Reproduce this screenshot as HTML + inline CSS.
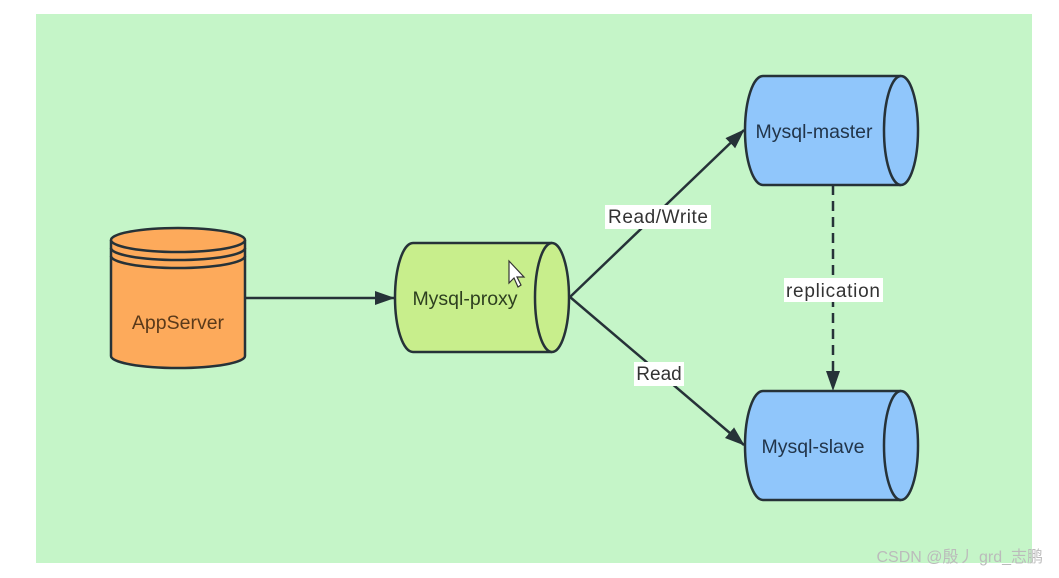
<!DOCTYPE html>
<html><head><meta charset="utf-8"><style>
html,body{margin:0;padding:0;background:#fff;width:1059px;height:578px;overflow:hidden}
text{font-family:"Liberation Sans","Noto Sans CJK SC",sans-serif}
</style></head><body>
<svg width="1059" height="578" viewBox="0 0 1059 578" xmlns="http://www.w3.org/2000/svg">
<defs>
<marker id="ah2" viewBox="0 0 20 20" refX="19" refY="10" markerWidth="20" markerHeight="20" orient="auto" markerUnits="userSpaceOnUse"><path d="M0,3 L20,10 L0,17 z" fill="#263238"/></marker>
</defs>
<rect x="36" y="14" width="996" height="549" fill="#c5f5c8"/>
<g stroke="#263238" stroke-width="2.5">
<path d="M111,240 L111,356 A67,12 0 0 0 245,356 L245,240" fill="#fdaa5b"/>
<ellipse cx="178" cy="240" rx="67" ry="12" fill="#fdaa5b"/>
<path d="M111,248 A67,12 0 0 0 245,248 M111,256 A67,12 0 0 0 245,256" fill="none"/>
<path d="M552,243 L413,243 A18,54.5 0 0 0 413,352 L552,352" fill="#c8ee8c"/>
<ellipse cx="552" cy="297.5" rx="17" ry="54.5" fill="#c8ee8c"/>
<path d="M901,76 L763,76 A18,54.5 0 0 0 763,185 L901,185" fill="#90c6fb"/>
<ellipse cx="901" cy="130.5" rx="17" ry="54.5" fill="#90c6fb"/>
<path d="M901,391 L763,391 A18,54.5 0 0 0 763,500 L901,500" fill="#90c6fb"/>
<ellipse cx="901" cy="445.5" rx="17" ry="54.5" fill="#90c6fb"/>
</g>
<g stroke="#263238" stroke-width="2.5" fill="none">
<line x1="245" y1="298" x2="394" y2="298" marker-end="url(#ah2)"/>
<line x1="570" y1="297" x2="744" y2="130" marker-end="url(#ah2)"/>
<line x1="570" y1="297" x2="744" y2="445" marker-end="url(#ah2)"/>
<line x1="833" y1="185" x2="833" y2="390" stroke-dasharray="10,6" marker-end="url(#ah2)"/>
</g>
<rect x="605" y="205" width="106" height="24" fill="#fff"/>
<rect x="634" y="362" width="50" height="24" fill="#fff"/>
<rect x="784" y="278" width="99" height="24" fill="#fff"/>
<g font-size="19" fill="#333">
<text x="658" y="223" text-anchor="middle" textLength="100">Read/Write</text>
<text x="659" y="380" text-anchor="middle">Read</text>
<text x="833" y="297" text-anchor="middle" textLength="94">replication</text>
</g>
<g font-size="19.5" fill="#22354a">
<text x="178" y="329" text-anchor="middle" fill="#5a3a1a">AppServer</text>
<text x="465" y="305" text-anchor="middle" fill="#2e4020">Mysql-proxy</text>
<text x="814" y="138" text-anchor="middle">Mysql-master</text>
<text x="813" y="453" text-anchor="middle">Mysql-slave</text>
</g>
<path d="M509,261 L509,283 L514,278 L518,287 L521,285 L517,277 L524,277 z" fill="#fff" stroke="#333" stroke-width="1.2"/>
<text x="1043" y="562" text-anchor="end" font-size="16" fill="#bbb">CSDN @殷丿 grd_志鹏</text>
</svg>
</body></html>
